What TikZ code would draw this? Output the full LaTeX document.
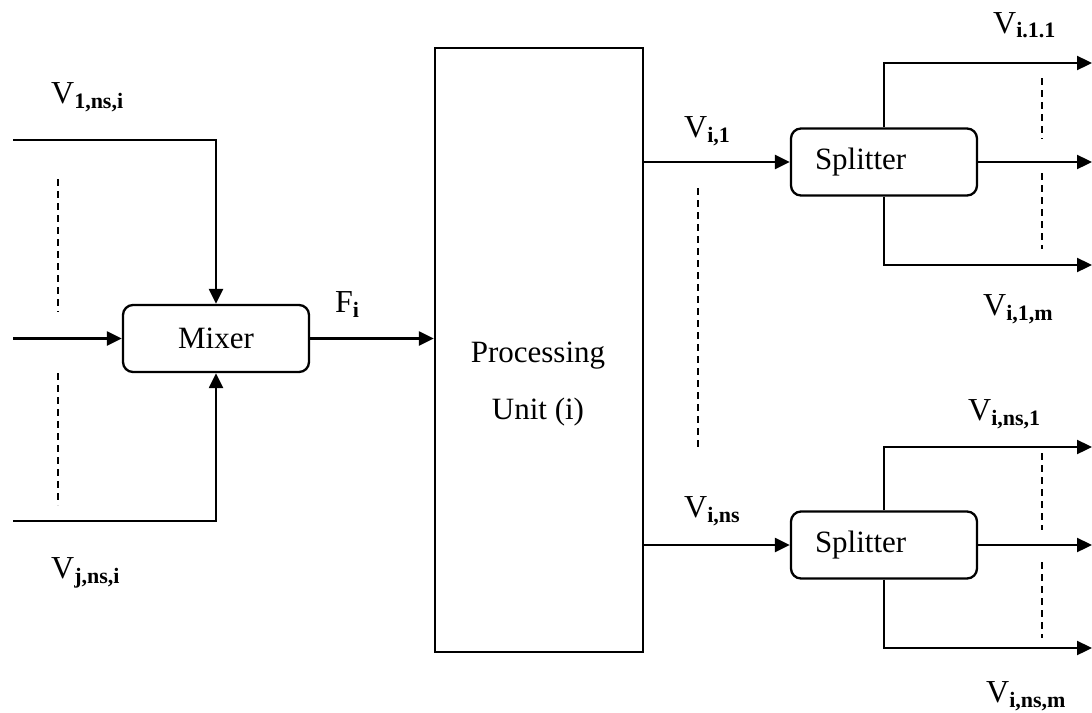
\documentclass[tikz,border=0pt]{standalone}
\usepackage{fontspec}
\setmainfont{Liberation Serif}
\usetikzlibrary{arrows.meta}
\newcommand\Vsub[1]{\raisebox{-5pt}{\fontsize{22}{22}\selectfont\bfseries #1}}
\begin{document}
\begin{tikzpicture}[x=1pt,y=-1pt,line width=2.3pt,
  box/.style={draw,rounded corners=10pt,minimum width=186pt,minimum height=67pt,inner sep=0pt,font=\fontsize{31}{36}\selectfont},
  splitbox/.style={box,inner xsep=24pt,text width=138pt,align=left},
  lab/.style={anchor=base west,inner sep=0pt,font=\fontsize{32}{36}\selectfont},
  flow/.style={-{Triangle[length=15pt,width=14pt]}},
  dsh/.style={line width=1.7pt,dash pattern=on 7pt off 5pt}]
\useasboundingbox (0,0) rectangle (1092,712);
% boxes
\node[box] (mixer) at (216,338.5) {Mixer};
\node[draw,minimum width=208pt,minimum height=604pt,inner sep=0pt] (pu) at (539,350) {};
\node[align=center,inner sep=0pt,font=\fontsize{31}{57}\selectfont] (putext) at (538,384) {Processing\\Unit (i)};
\node[splitbox] (s1) at (884,162) {Splitter};
\node[splitbox] (s2) at (884,545) {Splitter};
% free ends
\coordinate (in1) at (13,140);
\coordinate (in2) at (13,338.5);
\coordinate (in3) at (13,521);
\coordinate (o11) at (1092,63);
\coordinate (o12) at (1092,162);
\coordinate (o13) at (1092,265);
\coordinate (o21) at (1092,447);
\coordinate (o22) at (1092,545);
\coordinate (o23) at (1092,648);
% connectors
\draw[flow] (in1) -| (mixer.north);
\draw[flow] (in2) -- (mixer.west);
\draw[flow] (in3) -| (mixer.south);
\draw[flow] (mixer.east) -- (mixer.east -| pu.west);
\draw[flow] (s1.west -| pu.east) -- (s1.west);
\draw[flow] (s2.west -| pu.east) -- (s2.west);
\draw[flow] (s1.north) |- (o11);
\draw[flow] (s1.east) -- (o12);
\draw[flow] (s1.south) |- (o13);
\draw[flow] (s2.north) |- (o21);
\draw[flow] (s2.east) -- (o22);
\draw[flow] (s2.south) |- (o23);
% dashed ellipsis lines
\draw[dsh] (58,179) -- (58,312);
\draw[dsh] (58,373) -- (58,505);
\draw[dsh] (698,188) -- (698,447);
\draw[dsh] (1042,78) -- (1042,139);
\draw[dsh] (1042,173) -- (1042,249);
\draw[dsh] (1042,453) -- (1042,530);
\draw[dsh] (1042,562) -- (1042,638);
% labels
\node[lab] (l1) at (50,103) {V\Vsub{1,ns,i}};
\node[lab] (l2) at (50,578) {V\Vsub{j,ns,i}};
\node[lab] (lf) at (334,312) {F\Vsub{i}};
\node[lab] (l3) at (683,137) {V\Vsub{i,1}};
\node[lab] (l4) at (992,33) {V\Vsub{i.1.1}};
\node[lab] (l5) at (982,315) {V\Vsub{i,1,m}};
\node[lab] (l6) at (683,517) {V\Vsub{i,ns}};
\node[lab] (l7) at (967,420) {V\Vsub{i,ns,1}};
\node[lab] (l8) at (985,702) {V\Vsub{i,ns,m}};
\end{tikzpicture}
\end{document}
